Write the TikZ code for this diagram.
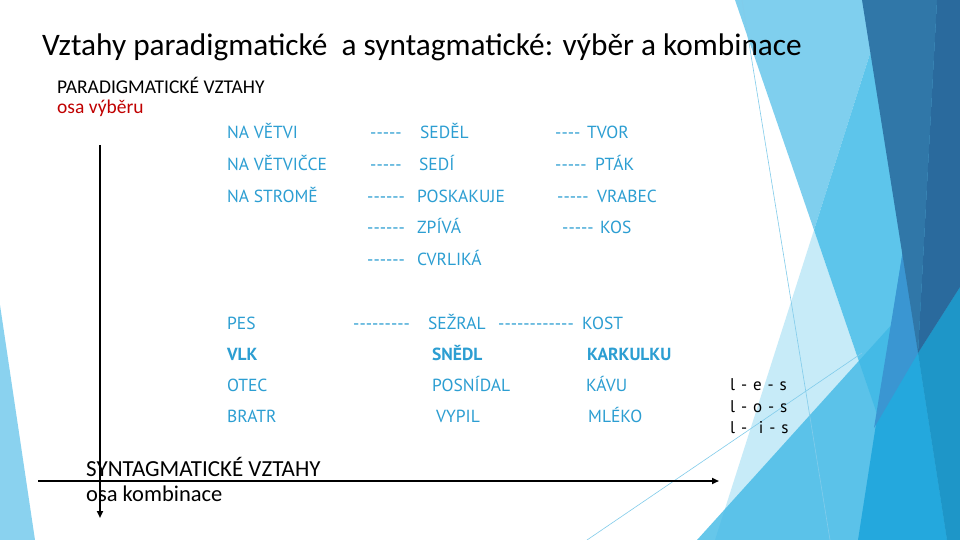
\documentclass[tikz,border=0pt]{standalone}
\usepackage{fontspec}
\setmainfont{Carlito}
\newfontfamily\trebfont{PT Sans}
\newfontfamily\lesfont[LetterSpace=8]{PT Sans}
\usetikzlibrary{arrows.meta}
\definecolor{wordblue}{RGB}{44,158,210}
\definecolor{redlbl}{RGB}{192,0,0}
\definecolor{bgleft}{RGB}{138,210,239}
\definecolor{tone}{RGB}{127,207,238}
\definecolor{ttwo}{RGB}{199,235,248}
\definecolor{tover}{RGB}{93,197,235}
\definecolor{tthree}{RGB}{62,184,229}
\definecolor{dkone}{RGB}{48,119,168}
\definecolor{dktwo}{RGB}{42,106,157}
\definecolor{brone}{RGB}{36,168,221}
\definecolor{brtwo}{RGB}{30,150,200}
\definecolor{sliver}{RGB}{58,150,210}
\definecolor{thinln}{RGB}{130,204,235}
\tikzset{
  titletext/.style={anchor=base west, inner sep=0pt, font=\fontsize{31.3}{31.3}\selectfont},
  headtext/.style={anchor=base west, inner sep=0pt, font=\fontsize{19.5}{19.5}\selectfont},
  bw/.style={anchor=base west, inner sep=0pt, text=wordblue, font=\trebfont\fontsize{17.5}{17.5}\selectfont},
  bwb/.style={anchor=base west, inner sep=0pt, text=wordblue, font=\trebfont\bfseries\fontsize{17.5}{17.5}\selectfont},
  lestext/.style={anchor=base west, inner sep=0pt, font=\lesfont\fontsize{17}{17}\selectfont},
  axis/.style={line width=2pt, -{Triangle[length=7pt,width=6pt]}}
}
\begin{document}
\begin{tikzpicture}[x=1pt,y=-1pt]
\useasboundingbox (0,0) rectangle (960,540);
\fill[white] (0,0) rectangle (960,540);
% background facets
\fill[bgleft] (0,305) -- (35,540) -- (0,540) -- cycle;
\fill[tone] (735,0) -- (887,0) -- (814,230) -- cycle;
\fill[ttwo] (814,230) -- (920,540) -- (715,540) -- cycle;
\fill[tover] (887,0) -- (960,0) -- (960,540) -- (920,540) -- (814,230) -- cycle;
\fill[tthree, fill opacity=0.79] (697,540) -- (960,249) -- (960,540) -- cycle;
\fill[brone] (903,250) -- (918,353) -- (947,540) -- (858,540) -- cycle;
\fill[sliver] (903,250) -- (918,353) -- (874,428) -- cycle;
\fill[brtwo] (918,353) -- (960,287) -- (960,540) -- (947,540) -- cycle;
\fill[dkone] (862,0) -- (937,0) -- (918,353) -- cycle;
\fill[dktwo] (937,0) -- (960,0) -- (960,287) -- (918,353) -- cycle;
\draw[thinln, line width=0.6pt] (742,0) -- (830,540);
\draw[thinln, line width=0.6pt] (587,540) -- (862,353);

% title and headings
\node[titletext] (title) at (42,56) {Vztahy paradigmatické\ \ a syntagmatické: výběr a kombinace};
\node[headtext] (parad) at (57,94) {PARADIGMATICKÉ VZTAHY};
\node[headtext, text=redlbl] (osav) at (57,114) {osa výběru};

% upper block
\node[bw] (a1) at (227,139) {NA VĚTVI};
\node[bw] (a2) at (227,170.5) {NA VĚTVIČCE};
\node[bw] (a3) at (227,202) {NA STROMĚ};
\node[bw] (d1) at (370,139) {-----};
\node[bw] (d2) at (370,170.5) {-----};
\node[bw] (d3) at (367,202) {------};
\node[bw] (d4) at (367,233.5) {------};
\node[bw] (d5) at (367,265) {------};
\node[bw] (b1) at (420,139) {SEDĚL};
\node[bw] (b2) at (419,170.5) {SEDÍ};
\node[bw] (b3) at (417,202) {POSKAKUJE};
\node[bw] (b4) at (417,233.5) {ZPÍVÁ};
\node[bw] (b5) at (417,265) {CVRLIKÁ};
\node[bw] (e1) at (555,139) {----};
\node[bw] (e2) at (555,170.5) {-----};
\node[bw] (e3) at (557,202) {-----};
\node[bw] (e4) at (562,233.5) {-----};
\node[bw] (c1) at (587,139) {TVOR};
\node[bw] (c2) at (595,170.5) {PTÁK};
\node[bw] (c3) at (597,202) {VRABEC};
\node[bw] (c4) at (600,233.5) {KOS};

% lower block
\node[bw] (p1) at (227,329) {PES};
\node[bw] (pd1) at (353,329) {---------};
\node[bw] (q1) at (428,329) {SEŽRAL};
\node[bw] (pd2) at (498,329) {------------};
\node[bw] (r1) at (582,329) {KOST};
\node[bwb] (p2) at (227,360) {VLK};
\node[bwb] (q2) at (432,360) {SNĚDL};
\node[bwb] (r2) at (587,360) {KARKULKU};
\node[bw] (p3) at (227,391.5) {OTEC};
\node[bw] (q3) at (432,391.5) {POSNÍDAL};
\node[bw] (r3) at (586,391.5) {KÁVU};
\node[bw] (p4) at (227,422) {BRATR};
\node[bw] (q4) at (436,422) {VYPIL};
\node[bw] (r4) at (588,422) {MLÉKO};

% l-e-s
\node[lestext] (les1) at (730,390) {l - e - s};
\node[lestext] (les2) at (730,412) {l - o - s};
\node[lestext] (les3) at (730,433) {l - \ i - s};

% axes
\coordinate (vtop) at (100,145);
\coordinate (vbot) at (100,518);
\coordinate (hleft) at (38,481);
\coordinate (hright) at (719,481);
\draw[axis] (vtop) -- (vbot);
\draw[axis] (hleft) -- (hright);
\node[headtext, font=\fontsize{23}{23}\selectfont] (synt) at (86,476) {SYNTAGMATICKÉ VZTAHY};
\node[headtext, font=\fontsize{22.5}{22.5}\selectfont] (osak) at (86,501) {osa kombinace};
\end{tikzpicture}
\end{document}
